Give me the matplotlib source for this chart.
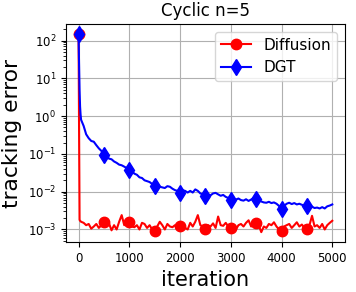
import numpy as np
import matplotlib
matplotlib.use("Agg")
import matplotlib.pyplot as plt

# iterasjoner (tett i starten der kurvene faller brått)
iterasjoner = [0, 10, 20, 30, 40] + list(range(50, 5000, 50)) + [4999]

diffusion = [150, 0.5, 1.8e-3, 1.7e-3, 1.65e-3,
             1.6e-3, 1.5e-3, 1.3e-3, 1.4e-3, 1.05e-3, 1.2e-3, 1.4e-3, 1.1e-3, 1.3e-3,
             1.55e-3, 1.2e-3, 1.45e-3, 0.95e-3, 1.3e-3, 1.0e-3, 1.6e-3, 2.4e-3, 1.3e-3, 1.7e-3,
             1.55e-3, 1.2e-3, 1.15e-3, 1.3e-3, 1.0e-3, 1.5e-3, 1.4e-3, 1.1e-3, 1.3e-3, 1.0e-3,
             0.94e-3, 1.2e-3, 1.6e-3, 1.3e-3, 1.0e-3, 1.4e-3, 1.2e-3, 1.15e-3, 1.3e-3, 1.05e-3,
             1.25e-3, 1.4e-3, 1.1e-3, 1.0e-3, 1.5e-3, 1.2e-3, 1.6e-3, 2.4e-3, 1.3e-3, 1.2e-3,
             1.05e-3, 1.3e-3, 1.2e-3, 1.45e-3, 1.1e-3, 2.2e-3, 1.3e-3, 1.25e-3, 1.5e-3, 1.2e-3,
             1.1e-3, 1.35e-3, 1.0e-3, 1.3e-3, 1.4e-3, 1.2e-3, 1.5e-3, 1.75e-3, 1.2e-3, 1.3e-3,
             1.45e-3, 1.3e-3, 0.85e-3, 1.2e-3, 1.1e-3, 1.4e-3, 1.3e-3, 1.55e-3, 1.2e-3, 1.0e-3,
             0.92e-3, 1.2e-3, 1.3e-3, 1.4e-3, 1.1e-3, 1.3e-3, 1.55e-3, 1.2e-3, 1.35e-3, 1.1e-3,
             1.05e-3, 1.3e-3, 2.3e-3, 1.2e-3, 1.3e-3, 1.1e-3, 1.4e-3, 1.0e-3, 1.3e-3, 1.5e-3,
             1.7e-3]

dgt = [150, 25, 5, 1.8, 1.1,
       0.8, 0.55, 0.33, 0.26, 0.22, 0.21, 0.17, 0.14, 0.12,
       0.095, 0.09, 0.075, 0.072, 0.063, 0.058, 0.052, 0.05, 0.046, 0.042,
       0.037, 0.035, 0.03, 0.028, 0.024, 0.023, 0.02, 0.019, 0.018, 0.016,
       0.0145, 0.015, 0.0135, 0.013, 0.0125, 0.014, 0.0135, 0.012, 0.011, 0.0105,
       0.0095, 0.011, 0.0105, 0.0095, 0.0105, 0.0095, 0.0115, 0.0105, 0.009, 0.0085,
       0.0077, 0.0085, 0.008, 0.009, 0.0093, 0.0085, 0.0078, 0.0082, 0.0073, 0.0068,
       0.0062, 0.0065, 0.0062, 0.0066, 0.006, 0.0058, 0.0063, 0.0057, 0.0062, 0.0068,
       0.0065, 0.006, 0.0055, 0.0052, 0.0051, 0.0054, 0.005, 0.0052, 0.0048, 0.0042,
       0.0034, 0.0042, 0.0048, 0.0051, 0.0047, 0.005, 0.0046, 0.0048, 0.0045, 0.0043,
       0.0041, 0.0045, 0.004, 0.0037, 0.0038, 0.0036, 0.0039, 0.0036, 0.0041, 0.0043,
       0.0046]

x = np.array(iterasjoner)
merker = (x % 500 == 0)

fig = plt.figure(figsize=(3.56, 2.92), dpi=100)
ax = fig.add_axes([0.185, 0.171, 0.784, 0.747])

ax.semilogy(x, diffusion, color="red", linewidth=1.5, marker="o",
            markersize=7.5, markevery=list(merker), label="Diffusion")
ax.semilogy(x, dgt, color="blue", linewidth=1.5, marker="d",
            markersize=8, markevery=list(merker), label="DGT")

ax.set_title("Cyclic n=5", fontsize=12)
ax.set_xlabel("iteration", fontsize=15)
ax.set_ylabel("tracking error", fontsize=15.7)
ax.set_xticks([0, 1000, 2000, 3000, 4000, 5000])
ax.tick_params(labelsize=8.5)
ax.grid(True, color="#b0b0b0")
ax.legend(loc="upper right", fontsize=11)

fig.savefig("out.png", dpi=100)
